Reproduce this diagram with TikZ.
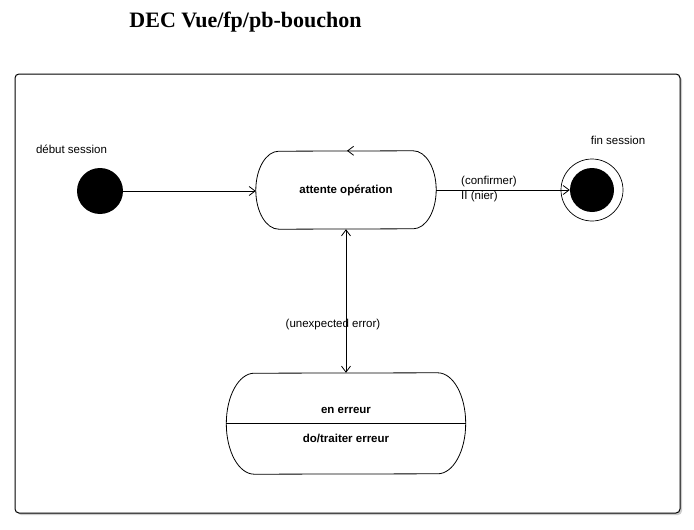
\documentclass[tikz,border=0pt]{standalone}
\usepackage{fontspec}
\setmainfont{Liberation Sans}
\newfontfamily\titlefont{Liberation Serif}
\usetikzlibrary{arrows.meta,shadows}

\tikzset{
  arr/.style={-{Straight Barb[length=6pt,width=9pt]}, line width=0.8pt},
  arrboth/.style={{Straight Barb[length=6pt,width=9pt]}-{Straight Barb[length=6pt,width=9pt]}, line width=0.8pt},
  state/.style={font=\fontsize{11.5}{13}\selectfont\bfseries},
  startstate/.style={circle, fill=black, minimum size=46pt, inner sep=0pt},
  endring/.style={circle, draw, line width=0.7pt, minimum size=62pt, inner sep=0pt},
  endstate/.style={circle, fill=black, minimum size=44pt, inner sep=0pt},
  lbl/.style={font=\fontsize{11.5}{13}\selectfont, inner sep=0pt},
  blbl/.style={font=\fontsize{11.5}{13}\selectfont\bfseries, inner sep=0pt}
}
% contour d'un etat aux bouts elliptiques
\newcommand{\stadium}[3]{%
  \draw[line width=0.8pt] ([xshift=-#2]#1.north east)
    arc[start angle=90, end angle=-90, x radius=#2, y radius=#3]
    -- ([xshift=#2]#1.south west)
    arc[start angle=-90, end angle=-270, x radius=#2, y radius=#3]
    -- cycle;}

\begin{document}
\begin{tikzpicture}[x=1pt,y=-1pt]
  \useasboundingbox (0,0) rectangle (694,530);
  \node[font=\titlefont\fontsize{22}{25}\selectfont\bfseries] (titre) at (245.5,22) {DEC Vue/fp/pb-bouchon};
  \draw[line width=1pt, rounded corners=4pt, fill=white,
        drop shadow={shadow xshift=2pt, shadow yshift=-2pt, fill=black!40}] (15,74) rectangle (680,513);

  % etats
  \node[startstate] (debut) at (100,191) {};
  \node[lbl] (ldebut) at (71.5,149) {début session};
  \node[state, minimum width=180pt, minimum height=78pt] (attente) at (346,190) {attente opération};
  \stadium{attente}{23pt}{39pt}
  \node[endring] (finring) at (592,190) {};
  \node[endstate] (fin) at (592,190) {};
  \node[lbl] (lfin) at (618,140) {fin session};
  \node[state, minimum width=239pt, minimum height=101pt] (erreur) at (346,423.5) {};
  \stadium{erreur}{28pt}{50.5pt}
  \node[blbl] (enerreur) at (346,410) {en erreur};
  \node[blbl] (traiter) at (346,438) {do/traiter erreur};
  \coordinate (sep) at (346,423);
  \draw[line width=0.8pt] (erreur.west |- sep) -- (erreur.east |- sep);

  % transitions
  \draw[arr] (debut) -- (attente.west |- debut);
  \draw[arr] (attente.east |- fin) -- (fin);
  \node[lbl, anchor=west] (lconf) at (461,182) {(confirmer)};
  \node[lbl, anchor=west] (lnier) at (461,197) {II (nier)};
  \draw[arr] ([xshift=3pt]attente.north) -- ([xshift=1pt]attente.north);
  \draw[arrboth] (attente) -- (erreur);
  \node[lbl] (lerr) at (333,325) {(unexpected error)};
\end{tikzpicture}
\end{document}
